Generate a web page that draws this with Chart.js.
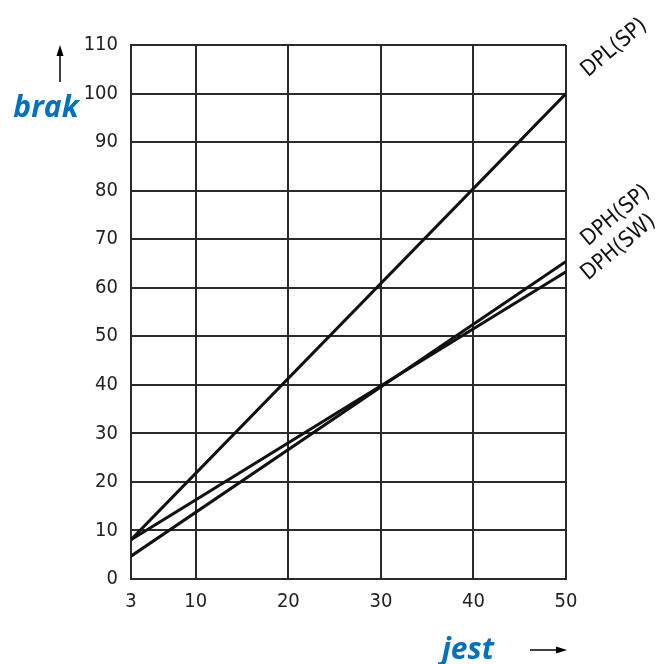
<!DOCTYPE html>
<html>
<head>
<meta charset="utf-8">
<script src="https://cdn.jsdelivr.net/npm/chart.js@4.4.1/dist/chart.umd.min.js"></script>
<style>
  body { margin: 0; background: #fff; }
  canvas { display: block; }
</style>
</head>
<body>
<canvas id="chart" width="663" height="664"></canvas>
<script>
// values
var xTicks = [3, 10, 20, 30, 40, 50];
var dplX = [3, 50];
var dplY = [8.1, 100];
var dphSpX = [3, 50];
var dphSpY = [4.7, 65.4];
var dphSwX = [3, 50];
var dphSwY = [8.1, 63.3];
var lineNames = ['DPL(SP)', 'DPH(SP)', 'DPH(SW)'];

function pts(xs, ys) {
    var out = [];
    for (var i in xs) {
        out.push({ x: xs[i], y: ys[i] });
    }
    return out;
}

var tickFont = { family: "'Liberation Sans Narrow', 'DejaVu Sans Condensed', sans-serif", size: 20 };

// offsets of the rotated line names from each line's end point
var nameOffsets = [[22, -16], [22, -15], [22, 9]];

var extras = {
    id: 'extras',
    afterDraw: function (chart) {
        var c = chart.ctx;
        var xs = chart.scales.x, ys = chart.scales.y;
        var ends = [dplY[1], dphSpY[1], dphSwY[1]];
        c.save();
        c.fillStyle = '#111';
        c.font = "22px 'Liberation Sans Narrow', 'DejaVu Sans Condensed', sans-serif";
        c.textAlign = 'left';
        c.textBaseline = 'alphabetic';
        for (var i = 0; i < lineNames.length; i++) {
            var px = xs.getPixelForValue(50) + nameOffsets[i][0];
            var py = ys.getPixelForValue(ends[i]) + nameOffsets[i][1];
            c.save();
            c.translate(px, py);
            c.rotate(-40 * Math.PI / 180);
            c.fillText(lineNames[i], 0, 0);
            c.restore();
        }

        // axis titles
        c.fillStyle = '#0070c0';
        c.font = "italic bold 30px 'Open Sans', sans-serif";
        c.textAlign = 'center';
        c.fillText('brak', 46, 117);
        c.fillText('jest', 468, 659);

        // arrows
        c.strokeStyle = '#000';
        c.fillStyle = '#000';
        c.lineWidth = 1.5;
        c.beginPath();
        c.moveTo(60, 82);
        c.lineTo(60, 52);
        c.stroke();
        c.beginPath();
        c.moveTo(60, 45);
        c.lineTo(56.5, 56);
        c.lineTo(63.5, 56);
        c.closePath();
        c.fill();

        c.beginPath();
        c.moveTo(530, 650);
        c.lineTo(560, 650);
        c.stroke();
        c.beginPath();
        c.moveTo(567, 650);
        c.lineTo(556, 646.5);
        c.lineTo(556, 653.5);
        c.closePath();
        c.fill();
        c.restore();
    }
};

var lineStyle = {
    borderColor: '#111',
    borderWidth: 3,
    pointRadius: 0,
    fill: false,
    tension: 0
};

var ctx = document.getElementById('chart');
var chart = new Chart(ctx, {
    type: 'line',
    data: {
        datasets: [
            Object.assign({ label: lineNames[0], data: pts(dplX, dplY) }, lineStyle),
            Object.assign({ label: lineNames[1], data: pts(dphSpX, dphSpY) }, lineStyle),
            Object.assign({ label: lineNames[2], data: pts(dphSwX, dphSwY) }, lineStyle)
        ]
    },
    options: {
        responsive: false,
        animation: false,
        layout: { padding: { top: 45, right: 97, left: 0, bottom: 0 } },
        plugins: {
            legend: { display: false },
            tooltip: { enabled: false }
        },
        scales: {
            x: {
                type: 'linear',
                min: 3,
                max: 50,
                afterBuildTicks: function (axis) {
                    axis.ticks = xTicks.map(function (v) { return { value: v }; });
                },
                afterFit: function (axis) { axis.height = 85; },
                grid: { color: '#2a2a2a', lineWidth: 2, drawTicks: false },
                border: { color: '#2a2a2a', width: 2 },
                ticks: { color: '#222', font: tickFont, padding: 11, maxRotation: 0, autoSkip: false }
            },
            y: {
                min: 0,
                max: 110,
                ticks: { stepSize: 10, color: '#222', font: tickFont, padding: 13 },
                afterFit: function (axis) { axis.width = 131; },
                grid: { color: '#2a2a2a', lineWidth: 2, drawTicks: false },
                border: { color: '#2a2a2a', width: 2 }
            }
        }
    },
    plugins: [extras]
});
</script>
</body>
</html>
